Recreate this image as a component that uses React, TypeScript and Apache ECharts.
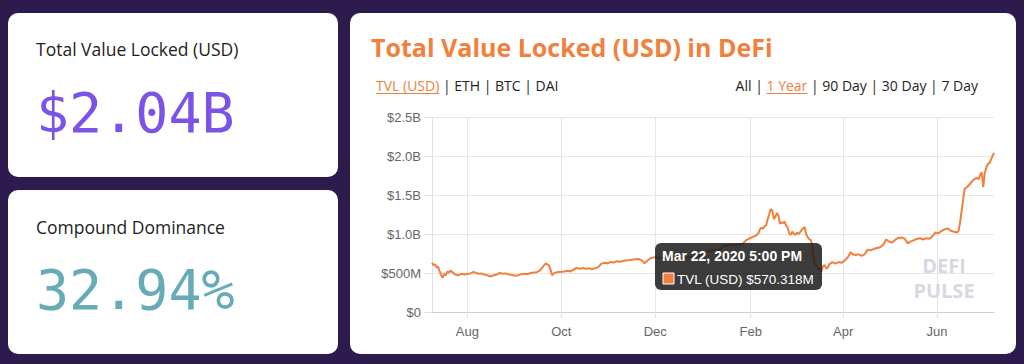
import React, { useEffect, useRef } from "react";
import * as echarts from "echarts";

// ---- data (TVL in millions of USD) ----
const tvlDates = [
  "2019-07-09","2019-07-10","2019-07-11","2019-07-12","2019-07-13","2019-07-14","2019-07-15","2019-07-16","2019-07-17","2019-07-18",
  "2019-07-19","2019-07-20","2019-07-21","2019-07-22","2019-07-24","2019-07-26","2019-07-28","2019-07-30","2019-08-01","2019-08-03",
  "2019-08-05","2019-08-06","2019-08-08","2019-08-10","2019-08-12","2019-08-14","2019-08-16","2019-08-18","2019-08-20","2019-08-22",
  "2019-08-24","2019-08-26","2019-08-28","2019-08-30","2019-09-01","2019-09-03","2019-09-05","2019-09-07","2019-09-09","2019-09-11",
  "2019-09-13","2019-09-15","2019-09-17","2019-09-19","2019-09-20","2019-09-21","2019-09-22","2019-09-23","2019-09-24","2019-09-25",
  "2019-09-26","2019-09-28","2019-10-01","2019-10-03","2019-10-05","2019-10-07","2019-10-09","2019-10-11","2019-10-13","2019-10-15",
  "2019-10-17","2019-10-19","2019-10-21","2019-10-23","2019-10-25","2019-10-27","2019-10-29","2019-10-31","2019-11-02","2019-11-04",
  "2019-11-06","2019-11-08","2019-11-10","2019-11-12","2019-11-14","2019-11-16","2019-11-18","2019-11-20","2019-11-22","2019-11-24",
  "2019-11-26","2019-11-28","2019-11-30","2019-12-02","2019-12-04","2019-12-06","2019-12-08","2019-12-10","2019-12-12","2019-12-14",
  "2019-12-16","2019-12-18","2019-12-20","2019-12-22","2019-12-24","2019-12-26","2019-12-28","2019-12-30","2020-01-01","2020-01-03",
  "2020-01-05","2020-01-07","2020-01-09","2020-01-11","2020-01-13","2020-01-15","2020-01-17","2020-01-19","2020-01-21","2020-01-23",
  "2020-01-25","2020-01-27","2020-01-29","2020-01-31","2020-02-02","2020-02-04","2020-02-06","2020-02-07","2020-02-08","2020-02-09",
  "2020-02-10","2020-02-11","2020-02-12","2020-02-13","2020-02-14","2020-02-15","2020-02-16","2020-02-17","2020-02-18","2020-02-19",
  "2020-02-20","2020-02-21","2020-02-22","2020-02-23","2020-02-24","2020-02-25","2020-02-26","2020-02-27","2020-02-28","2020-02-29",
  "2020-03-01","2020-03-02","2020-03-03","2020-03-04","2020-03-05","2020-03-06","2020-03-07","2020-03-08","2020-03-09","2020-03-10",
  "2020-03-11","2020-03-12","2020-03-13","2020-03-14","2020-03-15","2020-03-16","2020-03-17","2020-03-18","2020-03-19","2020-03-20",
  "2020-03-21","2020-03-22","2020-03-23","2020-03-25","2020-03-27","2020-03-29","2020-03-31","2020-04-02","2020-04-04","2020-04-06",
  "2020-04-07","2020-04-09","2020-04-11","2020-04-13","2020-04-15","2020-04-17","2020-04-19","2020-04-21","2020-04-23","2020-04-25",
  "2020-04-27","2020-04-29","2020-05-01","2020-05-03","2020-05-05","2020-05-07","2020-05-09","2020-05-11","2020-05-13","2020-05-15",
  "2020-05-17","2020-05-19","2020-05-21","2020-05-23","2020-05-25","2020-05-27","2020-05-29","2020-05-31","2020-06-02","2020-06-04",
  "2020-06-06","2020-06-08","2020-06-10","2020-06-12","2020-06-14","2020-06-15","2020-06-16","2020-06-18","2020-06-19","2020-06-21",
  "2020-06-23","2020-06-25","2020-06-27","2020-06-28","2020-06-29","2020-06-30","2020-07-01","2020-07-02","2020-07-03","2020-07-04",
  "2020-07-05","2020-07-06","2020-07-07","2020-07-08"
];
const tvlValues = [
  630,600,610,570,580,520,470,440,490,470,
  520,505,530,515,480,470,490,480,490,495,
  515,505,490,495,480,470,455,470,480,500,
  490,495,480,475,465,470,485,490,485,500,
  505,510,530,580,605,620,610,595,540,470,
  495,510,515,520,530,520,545,565,555,565,
  555,560,550,560,575,620,630,625,640,635,
  650,645,655,660,665,670,675,680,665,625,
  660,690,700,705,690,700,690,695,685,690,
  680,700,705,700,710,705,720,715,730,760,
  790,780,800,790,820,850,845,870,855,870,
  860,880,920,940,960,975,1010,1060,1080,1070,
  1100,1110,1190,1250,1320,1300,1190,1220,1270,1240,
  1130,1150,1140,1160,1110,1080,1010,990,1030,1000,
  990,1020,1000,1020,1050,1070,1090,1000,960,935,
  920,860,650,600,590,540,560,520,590,600,
  560,570,610,640,620,640,630,660,700,770,
  740,730,740,720,740,800,790,810,820,830,
  860,930,900,890,930,950,955,940,880,905,
  920,940,945,930,945,940,970,1020,1010,1040,
  1060,1070,1040,1030,1020,1040,1150,1450,1580,1610,
  1660,1700,1720,1700,1760,1790,1600,1780,1850,1900,
  1910,1950,2000,2040
];

const xRange = ["2019-07-09", "2020-07-08"];
const xTickDates = ["2019-08-01", "2019-10-01", "2019-12-01", "2020-02-01", "2020-04-01", "2020-06-01"];
const monthNames = ["Jan","Feb","Mar","Apr","May","Jun","Jul","Aug","Sep","Oct","Nov","Dec"];
const yMax = 2500;
const yStep = 500;

const statTitles = ["Total Value Locked (USD)", "Compound Dominance"];
const statValues = ["$2.04B", "32.94%"];
const chartTitle = "Total Value Locked (USD) in DeFi";
const assetTabs = ["TVL (USD)", "ETH", "BTC", "DAI"];
const rangeTabs = ["All", "1 Year", "90 Day", "30 Day", "7 Day"];
const activeAsset = 0;
const activeRange = 1;
const seriesName = "TVL (USD)";
const tooltipTitle = "Mar 22, 2020 5:00 PM";
const tooltipValue = "$570.318M";
const watermarkLines = ["DEFI", "PULSE"];

const ORANGE = "#f0803c";
const BG = "#2c1b4c";

function ts(s: string): number {
  const [y, m, d] = s.split("-").map(Number);
  return new Date(y, m - 1, d).getTime();
}

function yLabel(v: number): string {
  if (v === 0) return "$0";
  if (v < 1000) return "$" + v + "M";
  return "$" + (v / 1000).toFixed(1) + "B";
}

const measureCtx = typeof document !== "undefined" ? document.createElement("canvas").getContext("2d") : null;
function tw(text: string, font: string): number {
  if (!measureCtx) return text.length * 7;
  measureCtx.font = font;
  return measureCtx.measureText(text).width;
}

export default function App() {
  const ref = useRef<HTMLDivElement>(null);

  useEffect(() => {
    if (!ref.current) return;
    const chart = echarts.init(ref.current, undefined, { renderer: "svg" });

    const tabFamily = "Open Sans";
    const tabSize = 14;
    const tabFont = `${tabSize}px '${tabFamily}'`;
    const tabY = 85;
    const gfx: any[] = [];

    // cards
    gfx.push({ type: "rect", z: -10, shape: { x: 8, y: 13, width: 330, height: 164, r: 10 }, style: { fill: "#ffffff" } });
    gfx.push({ type: "rect", z: -10, shape: { x: 8, y: 190, width: 330, height: 164, r: 10 }, style: { fill: "#ffffff" } });
    gfx.push({ type: "rect", z: -10, shape: { x: 350, y: 13, width: 666, height: 341, r: 10 }, style: { fill: "#ffffff" } });

    // stat cards text
    gfx.push({ type: "text", z: 5, style: { text: statTitles[0], x: 36, y: 49, textVerticalAlign: "middle", fill: "#1e1e1e", fontFamily: "Open Sans", fontSize: 17.5 } });
    gfx.push({ type: "text", z: 5, style: { text: statValues[0], x: 36, y: 113, textVerticalAlign: "middle", fill: "#7b53e6", fontFamily: "DejaVu Sans Mono", fontSize: 55 } });
    gfx.push({ type: "text", z: 5, style: { text: statTitles[1], x: 36, y: 227, textVerticalAlign: "middle", fill: "#1e1e1e", fontFamily: "Open Sans", fontSize: 17.5 } });
    gfx.push({ type: "text", z: 5, style: { text: statValues[1], x: 36, y: 290, textVerticalAlign: "middle", fill: "#67abb6", fontFamily: "DejaVu Sans Mono", fontSize: 55 } });

    // chart title
    gfx.push({ type: "text", z: 5, style: { text: chartTitle, x: 371, y: 47, textVerticalAlign: "middle", fill: ORANGE, fontFamily: "Open Sans", fontWeight: "bold", fontSize: 25 } });

    const pieces = (tabs: string[], active: number) => {
      const out: { text: string; active: boolean }[] = [];
      tabs.forEach((t, i) => {
        if (i > 0) out.push({ text: " | ", active: false });
        out.push({ text: t, active: i === active });
      });
      return out;
    };
    const drawPieces = (ps: { text: string; active: boolean }[], startX: number) => {
      let x = startX;
      ps.forEach((p) => {
        const w = tw(p.text, tabFont);
        gfx.push({ type: "text", z: 5, style: { text: p.text, x, y: tabY, textVerticalAlign: "middle", fill: p.active ? ORANGE : "#1e1e1e", fontFamily: tabFamily, fontSize: tabSize } });
        if (p.active) {
          gfx.push({ type: "line", z: 5, shape: { x1: x, y1: tabY + 8.5, x2: x + w, y2: tabY + 8.5 }, style: { stroke: ORANGE, lineWidth: 1 } });
        }
        x += w;
      });
    };
    const leftPs = pieces(assetTabs, activeAsset);
    drawPieces(leftPs, 376);
    const rightPs = pieces(rangeTabs, activeRange);
    const rightW = rightPs.reduce((s, p) => s + tw(p.text, tabFont), 0);
    drawPieces(rightPs, 978 - rightW);

    // watermark
    watermarkLines.forEach((t, i) => {
      gfx.push({
        type: "text", z: 3,
        style: {
          text: t, x: 944, y: 265 + i * 25, textAlign: "center", textVerticalAlign: "middle",
          fill: "#d9d7e3", fontFamily: "Open Sans", fontWeight: "bold", fontSize: 20,
        },
      });
    });

    // static tooltip
    gfx.push({ type: "rect", z: 100, shape: { x: 655, y: 243, width: 167, height: 47, r: 6 }, style: { fill: "rgba(28,28,28,0.86)" } });
    gfx.push({ type: "text", z: 101, style: { text: tooltipTitle, x: 662, y: 256, textVerticalAlign: "middle", fill: "#ffffff", fontFamily: "Liberation Sans", fontWeight: "bold", fontSize: 14 } });
    gfx.push({ type: "rect", z: 101, shape: { x: 663, y: 273, width: 11, height: 11 }, style: { fill: ORANGE, stroke: "#ffffff", lineWidth: 1 } });
    gfx.push({ type: "text", z: 101, style: { text: seriesName + " " + tooltipValue, x: 677, y: 279, textVerticalAlign: "middle", fill: "#ffffff", fontFamily: "Liberation Sans", fontSize: 13.5 } });

    const tickTs = xTickDates.map(ts);

    chart.setOption({
      animation: false,
      backgroundColor: BG,
      grid: { left: 432, top: 117, width: 562, height: 195, containLabel: false },
      xAxis: {
        type: "value",
        min: ts(xRange[0]),
        max: ts(xRange[1]),
        axisLine: { show: true, lineStyle: { color: "#cfcfcf", width: 1 } },
        axisTick: { show: true, length: 6, lineStyle: { color: "#e3e3e3" }, customValues: tickTs },
        axisLabel: {
          customValues: tickTs,
          formatter: (v: number) => monthNames[new Date(v).getMonth()],
          color: "#666666",
          fontFamily: "Liberation Sans",
          fontSize: 13,
          margin: 13,
        },
        splitLine: { show: true, lineStyle: { color: "#e6e6e6", width: 1 } },
      },
      yAxis: {
        type: "value",
        min: 0,
        max: yMax,
        interval: yStep,
        axisLine: { show: true, lineStyle: { color: "#e0e0e0" } },
        axisTick: { show: true, length: 8, lineStyle: { color: "#e3e3e3" } },
        axisLabel: { formatter: yLabel, color: "#666666", fontFamily: "Liberation Sans", fontSize: 13, margin: 11 },
        splitLine: { show: true, lineStyle: { color: "#e6e6e6", width: 1 } },
      },
      series: [
        {
          name: seriesName,
          type: "line",
          data: tvlDates.map((d, i) => [ts(d), tvlValues[i]]),
          showSymbol: false,
          symbol: "none",
          lineStyle: { color: ORANGE, width: 2 },
          z: 2,
        },
      ],
      graphic: { elements: gfx },
    });

    return () => chart.dispose();
  }, []);

  return <div ref={ref} style={{ position: "fixed", left: 0, top: 0, width: 1024, height: 364 }} />;
}
